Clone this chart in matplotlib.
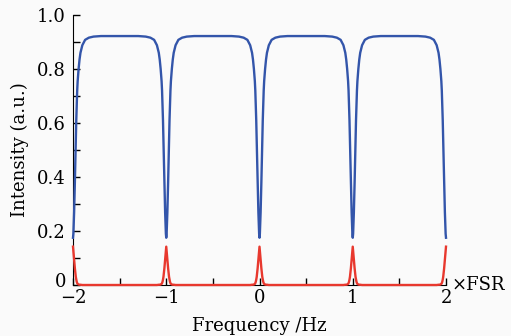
import numpy as np
import matplotlib.pyplot as plt
import matplotlib.transforms as mtransforms

# резонансы через каждый FSR
centers = [-2, -1, 0, 1, 2]

# профиль одного провала/пика (сдвиг от резонанса, доли FSR)
offset = [0, 0.004, 0.008, 0.012, 0.016, 0.02, 0.025, 0.03, 0.035, 0.04,
          0.045, 0.05, 0.06, 0.07, 0.08, 0.1, 0.13, 0.17, 0.22, 0.3, 0.4, 0.5]
reflect = [0.175, 0.19, 0.225, 0.27, 0.32, 0.38, 0.46, 0.54, 0.61, 0.67,
           0.72, 0.755, 0.80, 0.835, 0.86, 0.888, 0.908, 0.916, 0.920, 0.922, 0.922, 0.922]
transmit = [0.142, 0.125, 0.11, 0.095, 0.078, 0.062, 0.045, 0.03, 0.02, 0.012,
            0.007, 0.004, 0.002, 0.001, 0.001, 0, 0, 0, 0, 0, 0, 0]


def build(values):
    d = np.array(offset)
    v = np.array(values)
    off_full = np.concatenate([-d[::-1], d[1:]])
    val_full = np.concatenate([v[::-1], v[1:]])
    xs, ys = [], []
    for c in centers:
        x = c + off_full
        m = (x >= -2) & (x <= 2)
        xs.append(x[m])
        ys.append(val_full[m])
    return np.concatenate(xs), np.concatenate(ys)


plt.rcParams['font.family'] = 'DejaVu Serif'
plt.rcParams['font.size'] = 13

fig = plt.figure(figsize=(5.11, 3.36), dpi=100, facecolor='#fafafa')
ax = fig.add_axes([73 / 511, 1 - 285 / 336, (446 - 73) / 511, 270 / 336])
ax.set_facecolor('#fafafa')

x1, y1 = build(reflect)
x2, y2 = build(transmit)
ax.plot(x1, y1, color='#3355aa', lw=1.7, clip_on=False, zorder=3)
ax.plot(x2, y2, color='#e8382e', lw=1.7, clip_on=False, zorder=3)

ax.set_xlim(-2, 2)
ax.set_ylim(0, 1.0)
ax.set_xticks([-2, -1, 0, 1, 2])
ax.set_xticks([-1.5, -0.5, 0.5, 1.5], minor=True)
ax.set_yticks([0, 0.2, 0.4, 0.6, 0.8, 1.0])
ax.set_yticklabels(['0', '0.2', '0.4', '0.6', '0.8', '1.0'])
ax.set_yticks([0.1, 0.3, 0.5, 0.7, 0.9], minor=True)
ax.tick_params(which='both', direction='in', length=5, width=1)
ax.tick_params(axis='y', pad=5)
ax.tick_params(axis='x', pad=3)

# подпись "0" чуть выше, чтобы не наезжала на "−2"
lbl0 = ax.get_yticklabels()[0]
lbl0.set_transform(lbl0.get_transform() +
                   mtransforms.ScaledTranslation(0, 5 / 100, fig.dpi_scale_trans))

ax.spines['top'].set_visible(False)
ax.spines['right'].set_visible(False)

ax.set_xlabel('Frequency /Hz', labelpad=7)
ax.set_ylabel('Intensity (a.u.)', labelpad=6)
fig.text(452 / 511, 1 - 285 / 336, '×FSR', va='center', ha='left', fontsize=13)

fig.savefig('out.png', dpi=100, facecolor=fig.get_facecolor())
